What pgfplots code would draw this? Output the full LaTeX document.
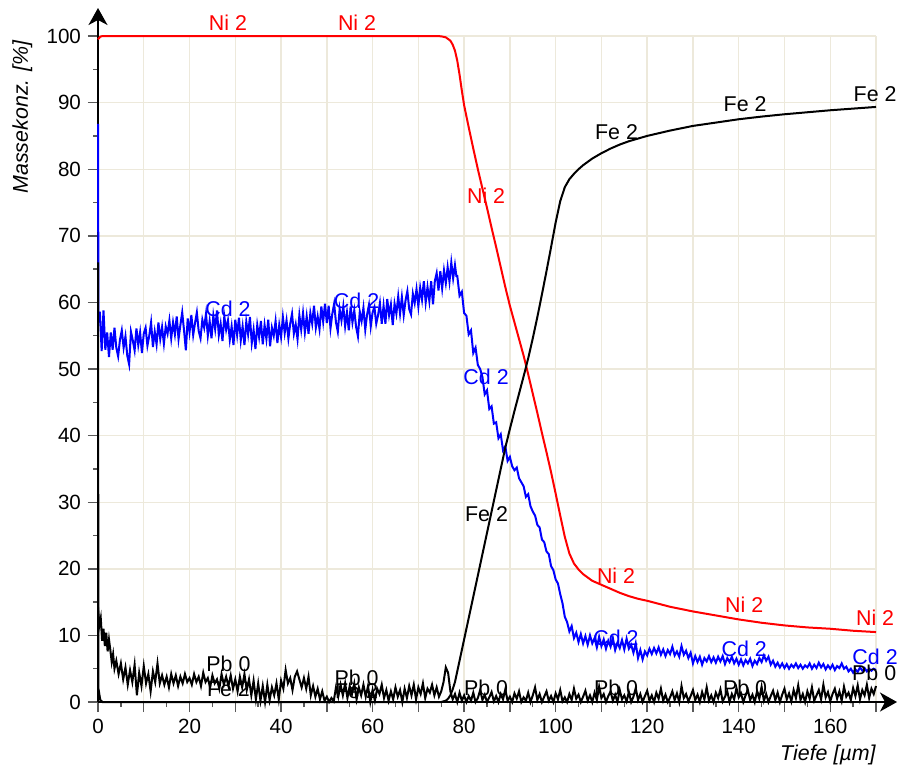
\documentclass[border=0pt]{standalone}
\usepackage{pgfplots}
\pgfplotsset{compat=1.18}
\usepackage{pgfplotstable}
\usepackage{fontspec}
\setmainfont{Liberation Sans}
\usetikzlibrary{arrows.meta}
\definecolor{gridc}{RGB}{237,233,219}

\pgfplotstableread{
x y
0 99.5
0.5 99.9
1 100
74 100
75 99.95
76 99.8
77 99.3
77.5 98.7
78 97.8
78.5 96.3
79 94.2
79.5 91.8
80 89.6
81 86.3
82 83.1
83 80.0
84 77.1
85 74.2
86 71.2
87 68.3
88 65.3
89 62.3
90 59.5
91 57.0
92 54.5
93 52.0
94 49.2
95 46.3
96 43.4
97 40.4
98 37.5
99 34.5
100 31.3
101 28.0
102 24.8
103 22.3
104 20.8
105 19.9
106 19.2
107 18.7
108 18.2
110 17.6
112 17.0
114 16.4
116 15.9
118 15.5
120 15.2
125 14.3
130 13.6
135 13.0
140 12.4
145 11.9
150 11.5
155 11.2
160 11.0
165 10.7
170 10.5
}\nidata

\pgfplotstableread{
x y
0 66
0.1 2.0
0.5 0.3
1 0
75 0
76 0.2
76.5 0.5
77 1.0
77.5 1.9
78 3.0
79 6.2
80 9.4
81 12.6
82 15.8
83 19.0
84 22.2
85 25.4
86 28.6
87 31.8
88 35.0
89 38.2
90 41.0
91 43.7
92 46.3
93 48.9
94 51.6
95 54.6
96 57.8
97 61.2
98 64.7
99 68.3
100 72.0
101 75.2
102 77.3
103 78.5
104 79.3
105 80.0
106 80.6
107 81.1
108 81.6
110 82.4
112 83.1
114 83.7
116 84.2
118 84.6
120 85.0
125 85.8
130 86.5
135 87.0
140 87.5
145 87.9
150 88.25
155 88.55
160 88.85
165 89.1
170 89.35
}\fedata

\pgfplotstableread{
x y
0 86.8
0.1 57.0
0.4 58.6
0.8 52.7
1.2 58.8
1.6 52.9
2.0 55.5
2.4 51.8
2.8 55.5
3.2 52.9
3.6 56.2
4.0 53.2
4.4 51.9
4.8 54.4
5.2 55.8
5.6 53.2
6.0 54.9
6.4 52.0
6.8 50.7
7.2 55.6
7.6 54.3
8.0 52.8
8.4 56.1
8.8 53.6
9.2 55.5
9.6 52.4
10.0 55.3
10.4 56.2
10.8 53.5
11.2 55.0
11.6 57.0
12.0 53.3
12.4 55.6
12.8 53.7
13.2 57.0
13.6 54.5
14.0 56.3
14.4 53.8
14.8 56.4
15.2 55.3
15.6 57.3
16.0 54.6
16.4 57.0
16.8 55.2
17.2 57.9
17.6 54.5
18.0 56.6
18.4 58.5
18.8 55.8
19.2 52.8
19.6 57.6
20.0 55.5
20.4 58.1
20.8 55.1
21.2 56.9
21.6 58.5
22.0 55.7
22.4 54.6
22.8 57.4
23.2 56.2
23.6 58.3
24.0 55.0
24.4 57.2
24.8 54.6
25.2 58.0
25.6 56.0
26.0 58.8
26.4 55.1
26.8 56.8
27.2 54.2
27.6 57.9
28.0 55.9
28.4 57.3
28.8 54.4
29.2 56.4
29.6 53.6
30.0 57.4
30.4 55.1
30.8 57.7
31.2 54.3
31.6 56.4
32.0 53.6
32.4 57.1
32.8 55.2
33.2 57.8
33.6 53.9
34.0 55.9
34.4 53.0
34.8 56.6
35.2 54.8
35.6 57.2
36.0 53.7
36.4 56.6
36.8 54.5
37.2 57.4
37.6 53.4
38.0 56.2
38.4 55.0
38.8 57.2
39.2 53.9
39.6 56.6
40.0 54.8
40.4 57.8
40.8 55.4
41.2 57.3
41.6 54.6
42.0 56.8
42.4 58.3
42.8 55.3
43.2 56.7
43.6 54.5
44.0 58.1
44.4 55.9
44.8 58.4
45.2 55.5
45.6 57.9
46.0 55.3
46.4 58.4
46.8 56.8
47.2 59.5
47.6 56.2
48.0 57.9
48.4 56.0
48.8 59.4
49.2 57.1
49.6 59.8
50.0 56.9
50.4 59.5
50.8 56.1
51.2 58.3
51.6 59.8
52.0 57.0
52.4 55.6
52.8 59.0
53.2 57.3
53.6 59.4
54.0 56.4
54.4 58.5
54.8 55.8
55.2 59.4
55.6 57.0
56.0 58.8
56.4 56.3
56.8 54.9
57.2 58.6
57.6 57.2
58.0 59.2
58.4 55.9
58.8 58.2
59.2 59.6
59.6 56.4
60.0 58.5
60.4 59.3
60.8 56.8
61.2 58.1
61.6 59.9
62.0 56.8
62.4 59.5
62.8 56.8
63.2 60.5
63.6 58.1
64.0 59.7
64.4 56.6
64.8 59.8
65.2 58.3
65.6 60.9
66.0 58.3
66.4 60.8
66.8 58.1
67.2 60.3
67.6 61.7
68.0 59.0
68.4 58.2
68.8 61.3
69.2 59.9
69.6 62.0
70.0 59.4
70.4 62.2
70.8 60.4
71.2 63.2
71.6 60.0
72.0 62.3
72.4 60.2
72.8 63.2
73.2 59.7
73.6 63.2
74.0 64.4
74.4 61.8
74.8 64.7
75.2 62.1
75.6 64.8
76.0 62.9
76.4 65.3
76.8 63.1
77.2 66.0
77.6 63.6
78.0 65.6
78.3 64.0
78.5 64.0
79.0 61.0
79.5 61.6
80.0 58.4
80.5 58.0
81.0 55.2
81.5 55.8
82.0 52.4
82.5 53.2
83.0 50.6
83.5 50.0
84.0 48.8
84.5 46.2
85.0 46.8
85.5 44.0
86.0 44.4
86.5 41.8
87.0 42.0
87.5 39.6
88.0 40.2
88.5 37.8
89.0 38.4
89.5 36.2
90.0 36.8
90.5 35.4
91.0 34.8
91.5 35.2
92.0 33.6
92.5 33.0
93.0 32.4
93.5 30.8
94.0 31.2
94.5 29.4
95.0 28.6
95.5 28.0
96.0 26.6
96.5 26.2
97.0 24.4
97.5 24.0
98.0 22.6
98.5 22.2
99.0 20.4
99.5 19.8
100.0 18.4
100.5 17.8
101.0 16.2
101.5 14.8
102.0 12.8
102.5 12.0
103.0 10.6
103.5 11.4
104.0 9.6
104.5 10.4
105.0 9.0
105.5 10.2
106.0 8.8
106.5 9.9
107.0 8.6
107.5 10.0
108.0 8.8
108.5 9.6
109.0 8.2
109.5 9.8
110.0 8.4
110.5 9.4
111.0 8.0
111.5 9.2
112.0 8.3
112.5 9.6
113.0 7.8
113.5 8.9
114.0 8.1
114.5 9.3
115.0 7.9
115.5 9.5
116.0 8.0
116.5 8.6
117.0 7.4
117.5 8.8
118.0 6.6
118.5 7.8
119.0 6.4
119.5 7.6
120.0 7.0
120.5 8.0
121.0 7.2
121.5 8.1
122.0 7.3
122.5 8.2
123.0 7.1
123.5 7.9
124.0 6.9
124.5 7.8
125.0 7.2
125.5 8.3
126.0 7.0
126.5 7.6
127.0 6.8
127.5 8.4
128.0 7.1
128.5 7.7
129.0 6.6
129.5 7.4
130.0 5.8
130.5 6.9
131.0 6.0
131.5 6.8
132.0 5.6
132.5 6.6
133.0 6.1
133.5 6.9
134.0 6.0
134.5 6.7
135.0 5.9
135.5 6.8
136.0 6.1
136.5 6.9
137.0 5.7
137.5 6.6
138.0 6.0
138.5 6.8
139.0 5.8
139.5 6.5
140.0 5.6
140.5 6.4
141.0 5.5
141.5 6.3
142.0 5.8
142.5 6.5
143.0 5.4
143.5 6.2
144.0 5.7
144.5 6.6
145.0 6.0
145.5 7.0
146.0 6.2
146.5 6.8
147.0 5.6
147.5 6.2
148.0 5.3
148.5 5.9
149.0 5.2
149.5 5.8
150.0 5.1
150.5 5.7
151.0 5.0
151.5 5.6
152.0 5.2
152.5 5.8
153.0 5.1
153.5 5.6
154.0 5.0
154.5 5.5
155.0 5.2
155.5 5.8
156.0 5.0
156.5 5.6
157.0 5.1
157.5 5.9
158.0 5.2
158.5 5.7
159.0 4.9
159.5 5.5
160.0 5.0
160.5 5.6
161.0 4.8
161.5 5.4
162.0 5.1
162.5 5.8
163.0 5.0
163.5 5.3
164.0 4.6
164.5 5.0
165.0 4.4
165.5 4.9
166.0 4.5
166.5 5.2
167.0 4.7
167.5 5.1
168.0 4.6
168.5 5.0
169.0 4.7
169.5 5.0
170.0 4.8
}\cddata

\pgfplotstableread{
x y
0 14.2
0.3 11.5
0.6 12.6
0.9 9.2
1.2 11.0
1.5 8.4
1.8 10.4
2.1 7.6
2.4 9.4
2.7 7.8
3.0 6.0
3.3 7.2
3.6 5.0
4.0 6.2
4.5 4.2
5.0 5.8
5.5 3.4
6.0 5.2
6.5 2.6
7.0 4.8
7.5 3.0
8.0 5.6
8.5 1.0
9.0 4.4
9.5 2.4
10.0 5.4
10.5 2.8
11.0 4.2
11.5 1.6
12.0 4.6
12.5 3.0
13.0 5.8
13.5 2.8
14.0 4.0
14.5 2.6
15.0 3.8
15.5 2.2
16.0 4.2
16.5 2.8
17.0 4.0
17.5 2.4
18.0 3.8
18.5 2.8
19.0 4.2
19.5 3.0
20.0 3.6
20.5 2.6
21.0 4.2
21.5 3.0
22.0 3.8
22.5 2.4
23.0 4.4
23.5 3.0
24.0 3.6
24.5 2.2
25.0 4.0
25.5 2.8
26.0 3.4
26.5 2.0
27.0 4.2
27.5 2.6
28.0 3.8
28.5 2.4
29.0 4.0
29.5 2.0
30.0 3.4
30.5 1.6
31.0 3.8
31.5 2.2
32.0 4.2
32.5 1.8
33.0 3.4
33.5 1.0
34.0 3.2
34.5 0.4
35.0 2.8
35.5 0.2
36.0 2.4
36.5 0.0
37.0 2.6
37.5 0.3
38.0 2.2
38.5 1.0
39.0 2.8
39.5 0.4
40.0 3.2
40.5 2.0
41.0 4.8
41.5 2.8
42.0 3.6
42.5 1.8
43.0 3.8
43.5 4.6
44.0 3.4
44.5 2.2
45.0 3.6
45.5 2.0
46.0 3.8
46.5 1.0
47.0 2.4
47.5 0.8
48.0 2.0
48.5 0.4
49.0 1.6
49.5 0.2
50.0 0.8
50.5 0.0
51.0 0.6
51.5 0.1
52.0 2.2
52.5 0.8
53.0 2.6
53.5 1.0
54.0 2.8
54.5 0.6
55.0 2.4
55.5 1.2
56.0 2.8
56.5 0.4
57.0 2.2
57.5 1.0
58.0 2.6
58.5 0.8
59.0 2.4
59.5 0.0
60.0 1.8
60.5 0.2
61.0 2.0
61.5 1.2
62.0 2.6
62.5 0.6
63.0 1.8
63.5 0.2
64.0 1.6
64.5 0.4
65.0 2.2
65.5 0.8
66.0 1.8
66.5 0.0
67.0 2.0
67.5 0.6
68.0 2.4
68.5 1.0
69.0 2.6
69.5 0.4
70.0 2.2
70.5 1.2
71.0 2.8
71.5 0.6
72.0 2.0
72.5 1.4
73.0 2.6
73.5 1.0
74.0 2.2
74.5 0.8
75.0 1.6
75.5 3.0
76.0 5.2
76.5 4.4
77.0 1.6
77.5 0.4
78.0 1.2
78.5 0.0
79.0 1.4
79.5 0.2
80.0 1.0
80.5 0.0
81.0 0.9
81.5 0.2
82.0 1.4
82.5 0.0
83.0 0.6
83.5 1.8
84.0 0.3
84.5 1.1
85.0 0.0
85.5 0.7
86.0 1.5
86.5 0.1
87.0 0.9
87.5 0.0
88.0 1.2
88.5 0.4
89.0 1.9
89.5 0.2
90.0 0.8
90.5 0.0
91.0 1.3
91.5 0.5
92.0 1.6
92.5 0.0
93.0 0.7
93.5 0.2
94.0 1.4
94.5 0.0
95.0 1.0
95.5 2.2
96.0 0.3
96.5 1.2
97.0 0.0
97.5 0.8
98.0 1.6
98.5 0.2
99.0 0.9
99.5 0.0
100.0 1.3
100.5 0.4
101.0 1.8
101.5 0.1
102.0 0.7
102.5 0.0
103.0 1.2
103.5 0.3
104.0 2.0
104.5 0.5
105.0 1.1
105.5 0.0
106.0 0.8
106.5 1.7
107.0 0.2
107.5 1.0
108.0 0.0
108.5 1.4
109.0 0.3
109.5 2.3
110.0 0.6
110.5 1.2
111.0 0.0
111.5 0.9
112.0 1.6
112.5 0.2
113.0 1.1
113.5 0.0
114.0 1.8
114.5 0.4
115.0 1.0
115.5 0.1
116.0 1.5
116.5 0.0
117.0 0.8
117.5 2.1
118.0 0.3
118.5 1.2
119.0 0.0
119.5 0.9
120.0 1.7
120.5 0.2
121.0 1.0
121.5 0.0
122.0 1.4
122.5 0.5
123.0 2.0
123.5 0.2
124.0 1.1
124.5 0.0
125.0 0.7
125.5 1.6
126.0 0.3
126.5 1.3
127.0 0.0
127.5 2.4
128.0 0.6
128.5 1.2
129.0 0.1
129.5 0.9
130.0 1.8
130.5 0.3
131.0 1.1
131.5 0.0
132.0 1.5
132.5 0.4
133.0 2.2
133.5 0.2
134.0 1.0
134.5 0.0
135.0 1.4
135.5 0.6
136.0 1.9
136.5 0.1
137.0 0.8
137.5 1.6
138.0 0.0
138.5 1.2
139.0 0.4
139.5 2.1
140.0 0.7
140.5 1.3
141.0 0.0
141.5 1.0
142.0 1.8
142.5 0.3
143.0 1.1
143.5 0.0
144.0 1.6
144.5 0.5
145.0 2.3
145.5 0.2
146.0 1.2
146.5 0.0
147.0 0.9
147.5 1.7
148.0 0.3
148.5 1.4
149.0 0.0
149.5 1.1
150.0 2.0
150.5 0.4
151.0 1.3
151.5 0.1
152.0 1.8
152.5 0.6
153.0 2.5
153.5 0.3
154.0 1.2
154.5 0.0
155.0 1.6
155.5 0.5
156.0 2.2
156.5 0.2
157.0 1.0
157.5 1.8
158.0 0.4
158.5 2.6
159.0 0.7
159.5 1.5
160.0 0.1
160.5 1.2
161.0 2.0
161.5 0.5
162.0 1.6
162.5 0.2
163.0 2.3
163.5 0.8
164.0 1.4
164.5 0.3
165.0 2.1
165.5 0.9
166.0 2.5
166.5 0.4
167.0 1.8
167.5 1.0
168.0 2.6
168.5 0.6
169.0 2.0
169.5 1.2
170.0 2.4
}\pbdata

\begin{document}
\begin{tikzpicture}
\useasboundingbox (-49pt,-33pt) rectangle (399.5pt,351pt);
\begin{axis}[
  at={(0,0)}, anchor=south west,
  scale only axis, width=389pt, height=333pt,
  xmin=0, xmax=170, ymin=0, ymax=100,
  clip=false,
  axis lines=left,
  axis line style={black, line width=0.8pt},
  x axis line style={-{Stealth[length=8.5pt,width=9.5pt,inset=2.5pt]}, shorten >=-10.5pt},
  y axis line style={-{Stealth[length=8.5pt,width=9.5pt,inset=2.5pt]}, shorten >=-14pt},
  xtick={0,10,...,170},
  xticklabels={0,,20,,40,,60,,80,,100,,120,,140,,160,},
  ytick={0,10,...,100},
  minor x tick num=1, minor y tick num=1,
  tick align=outside,
  major tick length=5pt, minor tick length=2.5pt,
  every tick/.style={black!65, line width=0.7pt},
  grid=major,
  major grid style={gridc, line width=0.7pt},
  /pgf/number format/assume math mode=true,
  tick label style={font=\fontsize{10.3}{12}\selectfont},
  every axis plot/.append style={line width=1pt},
]
\addplot[red] table {\nidata};
\addplot[blue] table {\cddata};
\addplot[black] table {\fedata};
\addplot[black] table {\pbdata};

\begin{scope}[every node/.style={font=\fontsize{10.7}{12}\selectfont, anchor=base, inner sep=0pt}]
\node[red] at (axis cs:28.4,100.9) {Ni 2};
\node[red] at (axis cs:56.6,100.9) {Ni 2};
\node[red] at (axis cs:84.8,74.85) {Ni 2};
\node[red] at (axis cs:113.2,17.8) {Ni 2};
\node[red] at (axis cs:141.2,13.4) {Ni 2};
\node[red] at (axis cs:169.8,11.56) {Ni 2};
\node[blue] at (axis cs:28.4,57.85) {Cd 2};
\node[blue] at (axis cs:56.5,59.1) {Cd 2};
\node[blue] at (axis cs:84.8,47.6) {Cd 2};
\node[blue] at (axis cs:113.2,8.56) {Cd 2};
\node[blue] at (axis cs:141.2,6.8) {Cd 2};
\node[blue] at (axis cs:169.8,5.56) {Cd 2};
\node at (axis cs:28.5,0.8) {Fe 2};
\node at (axis cs:56.5,0.6) {Fe 2};
\node at (axis cs:84.9,27.07) {Fe 2};
\node at (axis cs:113.3,84.4) {Fe 2};
\node at (axis cs:141.4,88.6) {Fe 2};
\node at (axis cs:169.8,90.1) {Fe 2};
\node at (axis cs:28.5,4.55) {Pb 0};
\node at (axis cs:56.5,2.55) {Pb 0};
\node at (axis cs:84.8,1.05) {Pb 0};
\node at (axis cs:113.2,1.05) {Pb 0};
\node at (axis cs:141.4,1.05) {Pb 0};
\node at (axis cs:169.6,3.3) {Pb 0};
\end{scope}

\node[rotate=90, anchor=base east, inner sep=0pt, font=\fontsize{10.7}{12}\selectfont\itshape]
  at ([xshift=-35pt]axis cs:0,99.4) {Massekonz. [\%]};
\node[anchor=base east, inner sep=0pt, font=\fontsize{10.7}{12}\selectfont\itshape]
  at ([yshift=-29pt]axis cs:170,0) {Tiefe [µm]};
\end{axis}
\end{tikzpicture}
\end{document}
